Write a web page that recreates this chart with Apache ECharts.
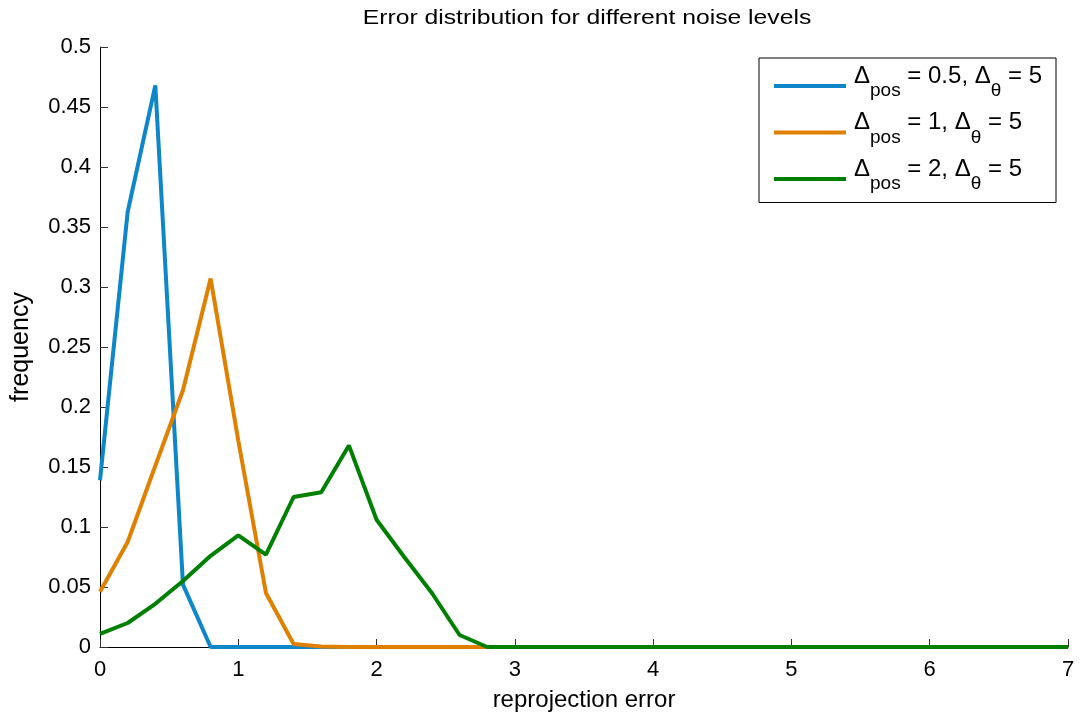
<!DOCTYPE html>
<html><head><meta charset="utf-8">
<script src="https://cdn.jsdelivr.net/npm/echarts@6/dist/echarts.min.js"></script>
<style>html,body{margin:0;padding:0;background:#fff}#c{width:1080px;height:717px}</style>
</head><body><div id="c"></div>
<script>
const xValues = [0,0.2,0.4,0.6,0.8,1.0,1.2,1.4,1.6,1.8,2.0,2.2,2.4,2.6,2.8,3.0,3.2,3.4,3.6,3.8,4.0,4.2,4.4,4.6,4.8,5.0,5.2,5.4,5.6,5.8,6.0,6.2,6.4,6.6,6.8,7.0];
const blue   = [0.139,0.3625,0.468,0.052,0,0,0,0,0,0,0,0,0,0,0,0,0,0,0,0,0,0,0,0,0,0,0,0,0,0,0,0,0,0,0,0];
const orange = [0.046,0.0875,0.151,0.214,0.307,0.172,0.045,0.0025,0.0005,0,0,0,0,0,0,0,0,0,0,0,0,0,0,0,0,0,0,0,0,0,0,0,0,0,0,0];
const green  = [0.011,0.02,0.036,0.055,0.076,0.093,0.077,0.125,0.129,0.168,0.106,0.075,0.045,0.01,0,0,0,0,0,0,0,0,0,0,0,0,0,0,0,0,0,0,0,0,0,0];
const seriesNames = ['pos05','pos1','pos2'];
const legendLabels = {pos05:['0.5','5'], pos1:['1','5'], pos2:['2','5']};
const yTickLabels = ['0','0.05','0.1','0.15','0.2','0.25','0.3','0.35','0.4','0.45','0.5'];
const titleText = 'Error distribution for different noise levels';
const xName = 'reprojection error';
const yName = 'frequency';
const colors = ['#0d86ca','#e08000','#008000'];
const font = 'Liberation Sans, Arial, sans-serif';

const chart = echarts.init(document.getElementById('c'));
const mk = (arr) => arr.map((v,i)=>[xValues[i], v]);
const datas = [blue, orange, green];
chart.setOption({
  animation:false,
  graphic:[{type:'text', x:587, y:8, scaleX:1.235, z:10,
    style:{text:titleText, fontFamily:font, fontSize:20, fill:'#000', align:'center', verticalAlign:'top'}}],
  grid:{left:100, right:12, top:47, bottom:70, outerBoundsMode:'none', containLabel:false},
  xAxis:{type:'value', min:0, max:7, interval:1,
    name:xName, nameLocation:'middle', nameGap:41,
    nameTextStyle:{fontFamily:font, fontSize:24, color:'#000'},
    axisLine:{lineStyle:{color:'#000', width:1}},
    axisTick:{inside:true, length:8, lineStyle:{color:'#333'}},
    axisLabel:{fontFamily:font, fontSize:22, color:'#000', margin:12},
    splitLine:{show:false}},
  yAxis:{type:'value', min:0, max:0.5, interval:0.05,
    name:yName, nameLocation:'middle', nameGap:66,
    nameTextStyle:{fontFamily:font, fontSize:25, color:'#000'},
    axisLine:{show:true, lineStyle:{color:'#000', width:1}},
    axisTick:{show:true, inside:true, length:8, lineStyle:{color:'#333'}},
    axisLabel:{fontFamily:font, fontSize:22, color:'#000', margin:9,
      formatter:(v)=>{const i=Math.round(v/0.05); return yTickLabels[i];}},
    splitLine:{show:false}},
  legend:{orient:'vertical', left:759, top:58,
    backgroundColor:'#fff', borderColor:'#000', borderWidth:1, borderRadius:0,
    padding:[6,14,9,15], itemGap:10, itemWidth:72, itemHeight:4, icon:'rect',
    data:seriesNames,
    formatter:(n)=>{const l=legendLabels[n]; return '{m|Δ}{sub|pos}{m| = '+l[0]+', Δ}{sub|θ}{m| = '+l[1]+'}';},
    textStyle:{fontFamily:font, fontSize:24, color:'#000', padding:[0,0,0,3],
      rich:{m:{fontFamily:font, fontSize:24, color:'#000', padding:[0,0,20,0]},
            sub:{fontFamily:font, fontSize:19, color:'#000', padding:[10,0,0,0]}}}},
  series: datas.map((d,i)=>({name:seriesNames[i], type:'line', data:mk(d), showSymbol:false, symbol:'none',
    lineStyle:{color:colors[i], width:4}, itemStyle:{color:colors[i]}, z:2+i}))
});
</script></body></html>
